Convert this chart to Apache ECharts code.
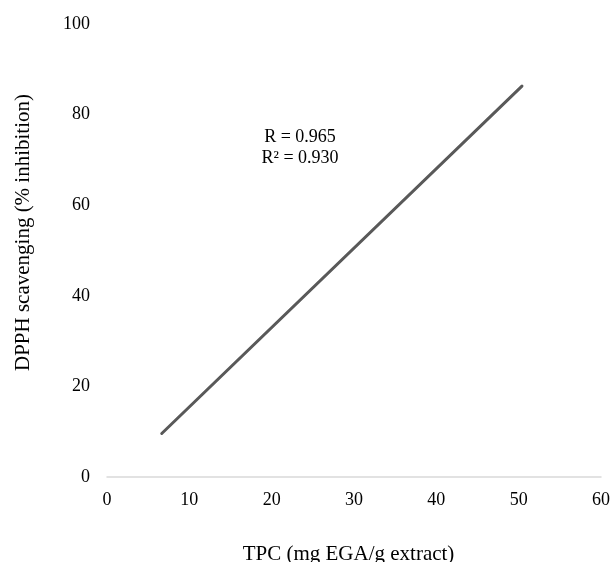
<!DOCTYPE html>
<html>
<head>
<meta charset="utf-8">
<script src="https://cdn.jsdelivr.net/npm/echarts@6/dist/echarts.min.js"></script>
<style>
  html, body { margin: 0; padding: 0; background: #fff; }
  #main { width: 613px; height: 562px; }
</style>
</head>
<body>
<div id="main"></div>
<script>
// trend line end points (TPC, DPPH)
var tpc = [6.65, 50.4];
var dpph = [9.6, 86.3];
var statText = ['R = 0.965', 'R² = 0.930'];

var chart = echarts.init(document.getElementById('main'));
var font = 'Liberation Serif, Times New Roman, serif';

var option = {
    animation: false,
    grid: { left: 107, right: 12, top: 24, bottom: 85, outerBoundsMode: 'none' },
    xAxis: {
        type: 'value',
        min: 0, max: 60, interval: 10,
        name: 'TPC (mg EGA/g extract)',
        nameLocation: 'middle',
        nameGap: 67,
        nameTextStyle: { fontFamily: font, fontSize: 21, color: '#000', padding: [0, 11, 0, 0] },
        axisLine: { lineStyle: { color: '#d9d9d9', width: 1.5 } },
        axisTick: { show: false },
        splitLine: { show: false },
        axisLabel: { fontFamily: font, fontSize: 18, color: '#000', margin: 14 }
    },
    yAxis: {
        type: 'value',
        min: 0, max: 100, interval: 20,
        name: 'DPPH scavenging (% inhibition)',
        nameLocation: 'middle',
        nameGap: 73,
        nameTextStyle: { fontFamily: font, fontSize: 21, color: '#000', padding: [0, 0, 0, 36] },
        axisLine: { show: false },
        axisTick: { show: false },
        splitLine: { show: false },
        axisLabel: { fontFamily: font, fontSize: 18, color: '#000', margin: 17 }
    },
    series: [{
        type: 'line',
        data: tpc.map(function (x, i) { return [x, dpph[i]]; }),
        symbol: 'none',
        lineStyle: { color: '#595959', width: 3, cap: 'round' }
    }],
    graphic: [{
        type: 'text',
        x: 300, y: 127,
        style: {
            text: statText.join('\n'),
            fontFamily: font, fontSize: 18, fill: '#000',
            lineHeight: 21, align: 'center'
        }
    }]
};
chart.setOption(option);
</script>
</body>
</html>
